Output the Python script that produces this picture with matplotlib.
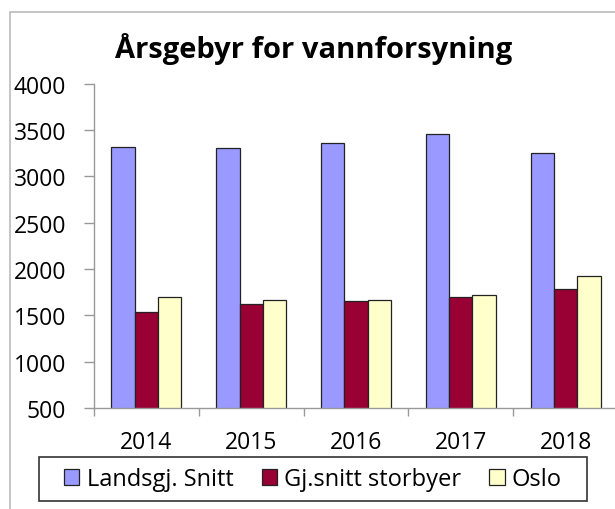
import matplotlib
matplotlib.use("Agg")
import matplotlib.pyplot as plt
from matplotlib.patches import Rectangle, Patch
import numpy as np

years = ["2014", "2015", "2016", "2017", "2018"]
landsgj = [3314, 3310, 3360, 3457, 3252]
storbyer = [1533, 1623, 1655, 1702, 1785]
oslo = [1702, 1669, 1669, 1720, 1928]
series_names = ["Landsgj. Snitt", "Gj.snitt storbyer", "Oslo"]
colors = ["#9999FF", "#990033", "#FFFFCC"]
yticks = [500, 1000, 1500, 2000, 2500, 3000, 3500, 4000]

plt.rcParams['font.family'] = ['Open Sans', 'DejaVu Sans']

W, H = 615, 510
fig = plt.figure(figsize=(W / 100, H / 100), dpi=100)

# outer chart border
fig.patches.append(Rectangle((10 / W, -0.1), 1.2, (H - 13) / H + 0.1,
                             transform=fig.transFigure, fill=False,
                             edgecolor="#BBBBBB", linewidth=1.2))

ax = fig.add_axes([94 / W, (H - 409) / H, 5 * 104.8 / W, (409 - 84.7) / H])
x = np.arange(len(years))
w = 1 / 4.5
for i, (vals, c) in enumerate(zip([landsgj, storbyer, oslo], colors)):
    ax.bar(x + (i - 1) * w, vals, width=w, color=c, edgecolor="#222222",
           linewidth=0.9, label=series_names[i])

ax.set_xlim(-0.5, len(years) - 0.5)
ax.set_ylim(500, 4000)
ax.set_yticks(yticks)
ax.set_yticklabels([str(v) for v in yticks])
ax.set_xticks(x)
ax.set_xticklabels(years)
ax.set_xticks(np.arange(-0.5, len(years)), minor=True)
ax.tick_params(axis='x', which='major', length=0, pad=16, labelsize=16.5)
ax.tick_params(axis='x', which='minor', length=6, color="#999999", width=1)
ax.tick_params(axis='y', length=7, color="#999999", width=1, pad=13, labelsize=16.5)
for s in ["top", "right"]:
    ax.spines[s].set_visible(False)
for s in ["left", "bottom"]:
    ax.spines[s].set_color("#999999")
    ax.spines[s].set_linewidth(1)
ax.patch.set_alpha(0)

fig.text(314 / W, (H - 49) / H, "Årsgebyr for vannforsyning", ha="center", va="center",
         fontsize=21, fontweight="bold")

# legend frame
fig.patches.append(Rectangle((39 / W, (H - 502) / H), (587 - 39) / W, 44 / H,
                             transform=fig.transFigure, fill=False,
                             edgecolor="#333333", linewidth=1.2))
handles = [Patch(facecolor=c, edgecolor="#222222", linewidth=0.9) for c in colors]
leg = fig.legend(handles, series_names, loc="center",
                 bbox_to_anchor=((39 + 587) / 2 / W, (H - 480) / H),
                 ncol=3, frameon=False, fontsize=17, handlelength=0.65, handleheight=0.65,
                 handletextpad=0.3, columnspacing=1.2, borderpad=0.2)

fig.savefig("out.png", dpi=100)
